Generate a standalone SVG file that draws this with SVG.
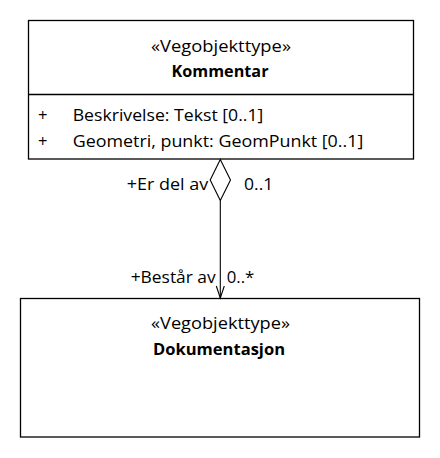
<svg xmlns="http://www.w3.org/2000/svg" width="440" height="458" viewBox="0 0 440 458">
<style>
.box{fill:#fff;stroke:#000;stroke-width:1.3}
.t{font-family:"Open Sans","Liberation Sans",sans-serif;font-size:16.5px;fill:#000}
.b{font-weight:bold}
.c{text-anchor:middle}
.ln{stroke:#000;stroke-width:1.1;fill:none}
</style>
<rect width="440" height="458" fill="#fff"/>
<g id="kommentar">
<rect class="box" x="28.5" y="20.5" width="385" height="138.5"/>
<line class="ln" x1="28.5" y1="94.5" x2="413.5" y2="94.5" style="stroke-width:1.3"/>
<text class="t c" x="221" y="52" textLength="140" lengthAdjust="spacingAndGlyphs">«Vegobjekttype»</text>
<text class="t b c" x="220" y="77" textLength="97" lengthAdjust="spacingAndGlyphs">Kommentar</text>
<text class="t" x="38" y="121">+</text>
<text class="t" x="72.7" y="121" textLength="190.6" lengthAdjust="spacingAndGlyphs">Beskrivelse: Tekst [0..1]</text>
<text class="t" x="38" y="146.5">+</text>
<text class="t" x="72.7" y="146.5" textLength="290.6" lengthAdjust="spacingAndGlyphs">Geometri, punkt: GeomPunkt [0..1]</text>
</g>
<g id="dokumentasjon">
<rect class="box" x="20.5" y="298.5" width="399" height="138.5"/>
<text class="t c" x="220.5" y="329" textLength="139" lengthAdjust="spacingAndGlyphs">«Vegobjekttype»</text>
<text class="t b c" x="219" y="355" textLength="132" lengthAdjust="spacingAndGlyphs">Dokumentasjon</text>
</g>
<g id="connectors">
<polygon class="ln" points="220.3,159.5 230.5,180 220.3,200.5 210.2,180" fill="#fff"/>
<line class="ln" x1="220.3" y1="200.5" x2="220.3" y2="298"/>
<polyline class="ln" points="216.3,286 220.3,298 224.3,286"/>
<text class="t" x="126.7" y="189.5" textLength="81.6" lengthAdjust="spacingAndGlyphs">+Er del av</text>
<text class="t" x="244" y="189.5" textLength="29.3" lengthAdjust="spacingAndGlyphs">0..1</text>
<text class="t" x="130.7" y="282.5" textLength="85" lengthAdjust="spacingAndGlyphs">+Består av</text>
<text class="t" x="226.7" y="282.5" textLength="27.6" lengthAdjust="spacingAndGlyphs">0..*</text>
</g>
</svg>
